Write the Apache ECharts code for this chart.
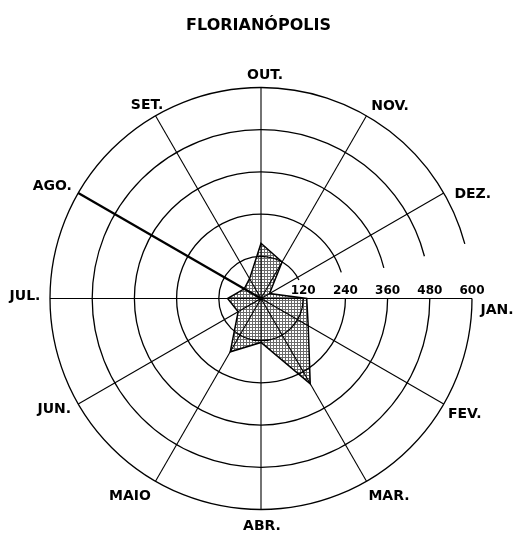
<!DOCTYPE html>
<html><head><meta charset="utf-8">
<script src="https://cdn.jsdelivr.net/npm/echarts@6/dist/echarts.min.js"></script>
<style>html,body{margin:0;padding:0;background:#fff}#c{width:517px;height:534px}</style>
</head><body><div id="c"></div>
<script>
// ---- data ----
const months = ['JAN.','FEV.','MAR.','ABR.','MAIO','JUN.','JUL.','AGO.','SET.','OUT.','NOV.','DEZ.'];
const rainfall = [130,155,280,125,175,75,95,55,65,157,120,28];
const ringValues = [120,240,360,480,600];
const tickLabels = ['120','240','360','480','600'];
const chartTitle = 'FLORIANÓPOLIS';

// ---- layout / style ----
const ringGapDeg = [26,18,14,14.5,15];
const labelNudge = [[25,11.5],[21,10],[22.5,15],[1,16.5],[-25.5,15],[-24,5],[-25,-2.5],[-26,-7],[-8.5,-10],[4,-12.5],[23.5,-9],[29,1]];
const FONT = 'DejaVu Sans';

function makePattern(){
  const c=document.createElement('canvas'); c.width=3; c.height=3;
  const g=c.getContext('2d');
  g.fillStyle='#ffffff'; g.fillRect(0,0,3,3);
  g.fillStyle='#6a6a6a';
  g.fillRect(0,0,3,1); g.fillRect(0,0,1,3);
  return c;
}
const pattern = makePattern();

const chart = echarts.init(document.getElementById('c'), null, {renderer:'canvas'});
chart.setOption({
  animation:false,
  backgroundColor:'#fff',
  title:{text:chartTitle,left:'center',top:13,textStyle:{fontFamily:FONT,fontWeight:'bold',fontSize:16,color:'#000'}},
  polar:{center:[261,298.5],radius:211},
  angleAxis:{type:'category',data:months,startAngle:0,clockwise:true,boundaryGap:false,
    axisLine:{show:false},axisTick:{show:false},axisLabel:{show:false},splitLine:{show:false}},
  radiusAxis:{type:'value',min:0,max:600,interval:120,
    axisLine:{show:false},axisTick:{show:false},splitLine:{show:false},
    axisLabel:{margin:2,color:'#000',fontFamily:FONT,fontWeight:'bold',fontSize:12,
      formatter:function(v){const k=ringValues.indexOf(v);return k>=0?tickLabels[k]:'';}}},
  series:[
    {type:'custom',coordinateSystem:'polar',z:1,
      data:rainfall.map((v,i)=>[v,i]),
      renderItem:function(params,api){
        if(params.dataIndex!==0) return;
        const pts=rainfall.map((v,i)=>api.coord([v,i]));
        return {type:'polygon',shape:{points:pts},
          style:{fill:{image:pattern,repeat:'repeat'},stroke:'#000',lineWidth:1.5}};
      }},
    {type:'custom',coordinateSystem:'polar',z:3,
      data:ringValues.map((v,i)=>[v,0]),
      renderItem:function(params,api){
        const cs=params.coordSys;
        const p=api.coord([api.value(0),0]);
        const r=Math.hypot(p[0]-cs.cx,p[1]-cs.cy);
        const gap=ringGapDeg[params.dataIndex]*Math.PI/180;
        return {type:'arc',shape:{cx:cs.cx,cy:cs.cy,r:r,startAngle:0,endAngle:2*Math.PI-gap,clockwise:true},
          style:{fill:null,stroke:'#000',lineWidth:1.3}};
      }},
    {type:'custom',coordinateSystem:'polar',z:4,
      data:months.map((m,i)=>[600,i]),
      renderItem:function(params,api){
        const i=params.dataIndex;
        const p0=api.coord([0,i]);
        const p1=api.coord([api.value(0),i]);
        return {type:'line',shape:{x1:p0[0],y1:p0[1],x2:p1[0],y2:p1[1]},
          style:{stroke:'#000',lineWidth:i===7?2.3:1.1}};
      }},
    {type:'custom',coordinateSystem:'polar',z:5,
      data:months.map((m,i)=>[600,i]),
      renderItem:function(params,api){
        const i=params.dataIndex;
        const p=api.coord([api.value(0),i]);
        return {type:'text',x:p[0]+labelNudge[i][0],y:p[1]+labelNudge[i][1],
          style:{text:months[i],fill:'#000',font:'bold 14px "'+FONT+'"',align:'center',verticalAlign:'middle'}};
      }}
  ]
});
</script></body></html>
